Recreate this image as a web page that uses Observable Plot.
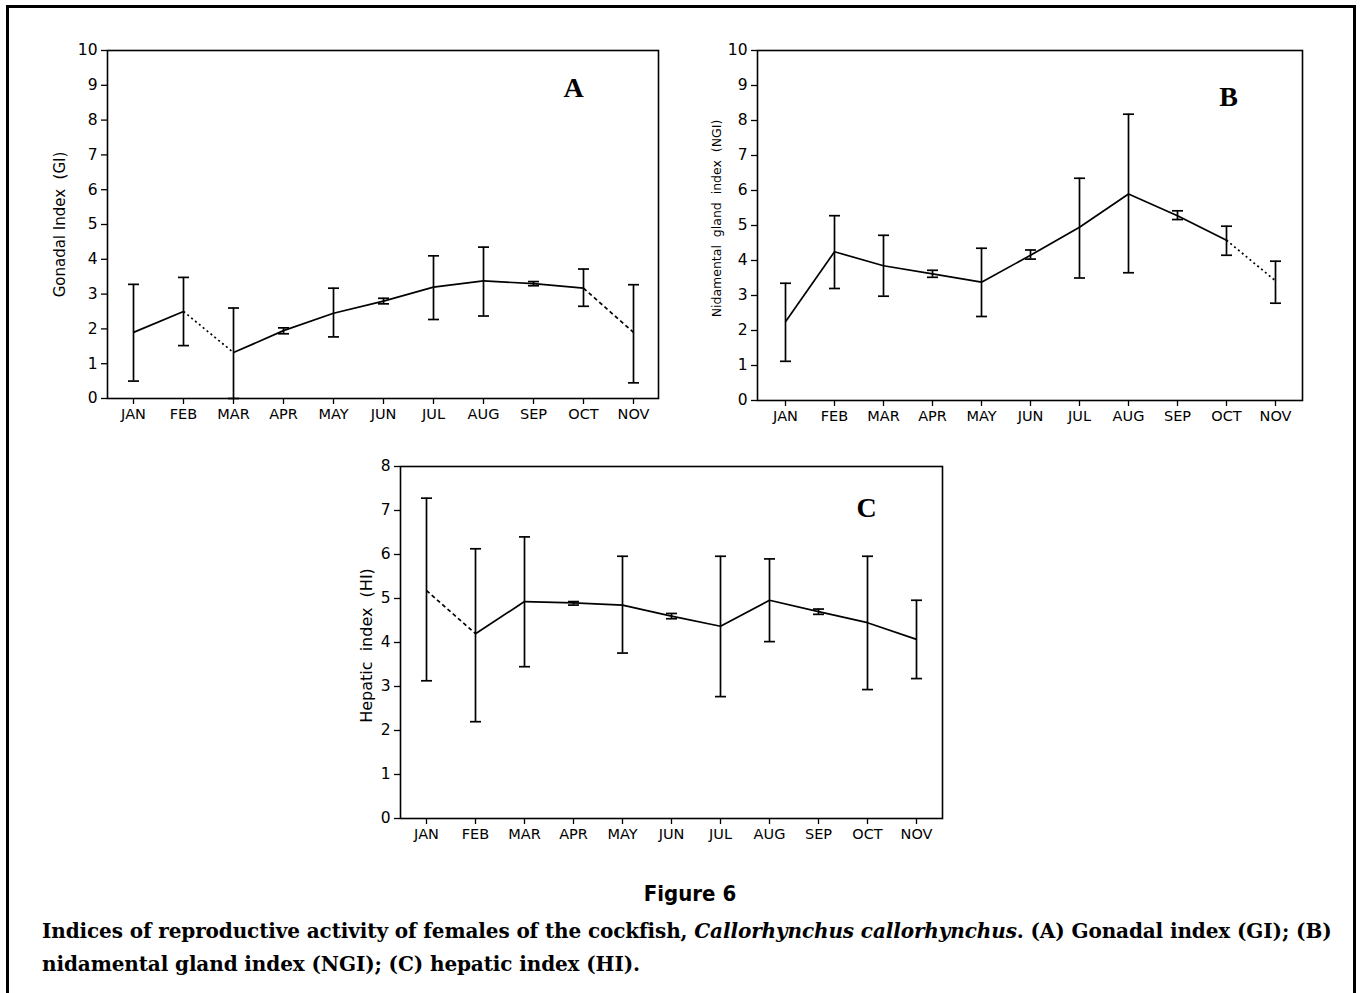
<!DOCTYPE html>
<html>
<head>
<meta charset="utf-8">
<script src="https://cdn.jsdelivr.net/npm/d3@7"></script>
<script src="https://cdn.jsdelivr.net/npm/@observablehq/plot@0.6"></script>
<style>
  html, body { margin: 0; padding: 0; background: #fff; }
  #page { position: relative; width: 1360px; height: 993px; overflow: hidden; background: #fff; }
  #border { position: absolute; left: 6px; top: 5px; width: 1344px; height: 1000px;
            border-left: 3px solid #000; border-top: 3px solid #000; border-right: 3px solid #000; }
  .panel { position: absolute; }
  #figtitle { position: absolute; left: 0; width: 1380px; top: 881px; text-align: center;
              font-family: "DejaVu Sans Condensed", "DejaVu Sans", sans-serif; font-weight: bold; font-size: 22px; }
  #caption { position: absolute; left: 42px; top: 915px; width: 1300px;
             font-family: "DejaVu Serif", serif; font-weight: bold; font-size: 20px; line-height: 33px; color: #000;
             white-space: nowrap; }
  #caption i { font-weight: bold; }
</style>
</head>
<body>
<div id="page">
  <div id="border"></div>
  <div id="panelA" class="panel" style="left:40px; top:30px;"></div>
  <div id="panelB" class="panel" style="left:700px; top:30px;"></div>
  <div id="panelC" class="panel" style="left:340px; top:446px;"></div>
  <div id="figtitle">Figure 6</div>
  <div id="caption"><span id="cap1">Indices of reproductive activity of females of the cockfish, <i>Callorhynchus callorhynchus</i>. (A) Gonadal index (GI); (B)</span><br><span id="cap2">nidamental gland index (NGI); (C) hepatic index (HI).</span></div>
</div>
<script>
// ---------- data ----------
const months = ["JAN", "FEB", "MAR", "APR", "MAY", "JUN", "JUL", "AUG", "SEP", "OCT", "NOV"];

// Panel A: Gonadal index (GI)
const giMean = [1.9, 2.5, 1.32, 1.95, 2.45, 2.8, 3.2, 3.38, 3.3, 3.17, 1.9];
const giLow  = [0.5, 1.52, 0.0, 1.86, 1.77, 2.72, 2.27, 2.37, 3.24, 2.65, 0.45];
const giHigh = [3.28, 3.48, 2.6, 2.03, 3.17, 2.88, 4.1, 4.35, 3.36, 3.72, 3.27];
const giSeg  = ["solid", "dotted", "solid", "solid", "solid", "solid", "solid", "solid", "solid", "dashed"];
const giTicks = [0, 1, 2, 3, 4, 5, 6, 7, 8, 9, 10];

// Panel B: Nidamental gland index (NGI)
const ngiMean = [2.25, 4.25, 3.85, 3.62, 3.38, 4.15, 4.95, 5.9, 5.28, 4.58, 3.42];
const ngiLow  = [1.12, 3.2, 2.98, 3.52, 2.4, 4.04, 3.5, 3.65, 5.17, 4.15, 2.78];
const ngiHigh = [3.35, 5.28, 4.72, 3.72, 4.35, 4.3, 6.35, 8.18, 5.42, 4.98, 3.98];
const ngiSeg  = ["solid", "solid", "solid", "solid", "solid", "solid", "solid", "solid", "solid", "dotted"];
const ngiTicks = [0, 1, 2, 3, 4, 5, 6, 7, 8, 9, 10];

// Panel C: Hepatic index (HI)
const hiMean = [5.18, 4.2, 4.93, 4.9, 4.85, 4.6, 4.37, 4.96, 4.7, 4.45, 4.07];
const hiLow  = [3.13, 2.2, 3.45, 4.85, 3.76, 4.54, 2.77, 4.02, 4.64, 2.93, 3.18];
const hiHigh = [7.28, 6.13, 6.4, 4.93, 5.96, 4.66, 5.96, 5.9, 4.76, 5.96, 4.96];
const hiSeg  = ["dashed", "solid", "solid", "solid", "solid", "solid", "solid", "solid", "solid", "solid"];
const hiTicks = [0, 1, 2, 3, 4, 5, 6, 7, 8];

// ---------- drawing ----------
const dashes = {solid: null, dotted: "2,3", dashed: "4,3"};
const capSymbol = {
  draw(ctx, size) {
    const w = Math.sqrt(size / Math.PI);
    ctx.moveTo(-w, 0);
    ctx.lineTo(w, 0);
  }
};

function panel(cfg) {
  const pts = months.map((m, i) => ({month: m, mean: cfg.mean[i], low: cfg.low[i], high: cfg.high[i]}));
  const segs = months.slice(0, -1).map((m, i) => ({
    x1: m, y1: cfg.mean[i], x2: months[i + 1], y2: cfg.mean[i + 1], style: cfg.seg[i]
  }));
  const segMarks = Object.keys(dashes).map(s =>
    Plot.link(segs.filter(d => d.style === s), {
      x1: "x1", y1: "y1", x2: "x2", y2: "y2",
      stroke: "#000", strokeWidth: 1.7,
      strokeDasharray: dashes[s] || undefined
    })
  );
  return Plot.plot({
    width: cfg.width, height: cfg.height,
    marginLeft: cfg.ml, marginRight: cfg.mr, marginTop: cfg.mt, marginBottom: cfg.mb,
    style: {fontFamily: "DejaVu Sans, sans-serif", fontSize: "15px", color: "#000", background: "#fff"},
    x: {type: "point", domain: months, padding: 0.5},
    y: {domain: [cfg.ticks[0], cfg.ticks[cfg.ticks.length - 1]]},
    marks: [
      Plot.frame({stroke: "#000", strokeWidth: 1.6}),
      Plot.axisY(cfg.ticks, {tickSize: 6, tickPadding: 4, label: null, fontSize: 15.5, strokeWidth: 1.3}),
      Plot.axisX(months, {tickSize: 6, tickPadding: 4, label: null, fontSize: 14.5, strokeWidth: 1.3}),
      ...segMarks,
      Plot.ruleX(pts, {x: "month", y1: "low", y2: "high", stroke: "#000", strokeWidth: 1.7}),
      Plot.dot(pts, {x: "month", y: "low", symbol: capSymbol, r: 5.5, stroke: "#000", strokeWidth: 1.7, fill: "none"}),
      Plot.dot(pts, {x: "month", y: "high", symbol: capSymbol, r: 5.5, stroke: "#000", strokeWidth: 1.7, fill: "none"}),
      Plot.text([cfg.ylabel], {frameAnchor: "left", text: d => d, rotate: -90, dx: cfg.ldx, dy: cfg.ldy,
        fontSize: cfg.lfs, textAnchor: "middle", lineAnchor: "middle"}),
      Plot.text([cfg.letter], {frameAnchor: "top-right", text: d => d, dx: cfg.adx, dy: cfg.ady,
        fontFamily: "Liberation Serif, serif", fontWeight: "bold", fontSize: 28,
        textAnchor: "middle", lineAnchor: "middle"})
    ]
  });
}

document.getElementById("panelA").append(panel({
  mean: giMean, low: giLow, high: giHigh, seg: giSeg, ticks: giTicks,
  width: 630, height: 400, ml: 67, mr: 12, mt: 20, mb: 32,
  ylabel: "Gonadal Index  (GI)", ldx: -47, ldy: 0, lfs: 15,
  letter: "A", adx: -85, ady: 38
}));
document.getElementById("panelB").append(panel({
  mean: ngiMean, low: ngiLow, high: ngiHigh, seg: ngiSeg, ticks: ngiTicks,
  width: 615, height: 405, ml: 57, mr: 13, mt: 20, mb: 35,
  ylabel: "Nidamental  gland  index  (NGI)", ldx: -41, ldy: -7, lfs: 12.5,
  letter: "B", adx: -74, ady: 47
}));
document.getElementById("panelC").append(panel({
  mean: hiMean, low: hiLow, high: hiHigh, seg: hiSeg, ticks: hiTicks,
  width: 615, height: 410, ml: 60, mr: 13, mt: 20, mb: 38,
  ylabel: "Hepatic  index  (HI)", ldx: -34, ldy: 3, lfs: 16,
  letter: "C", adx: -76, ady: 42
}));

// stretch caption lines to the reference line width
(function fitCaption() {
  const target = 1288;
  const c1 = document.getElementById("cap1");
  const w = c1.getBoundingClientRect().width;
  const n = c1.textContent.length;
  if (w > 0 && n > 1) {
    const ls = (target - w) / (n - 1);
    document.getElementById("caption").style.letterSpacing = ls.toFixed(3) + "px";
  }
})();
</script>
</body>
</html>
